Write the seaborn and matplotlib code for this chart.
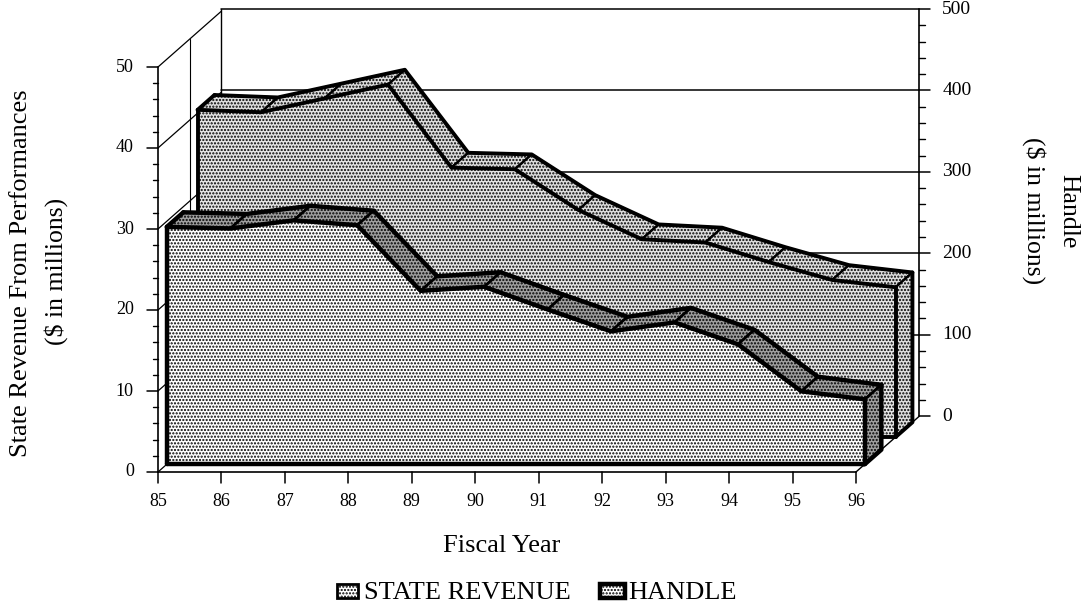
# -------------------------------------------------------
# State revenue and handle, drawn as a 3D style area chart
# -------------------------------------------------------
import numpy as np
import pandas as pd
import matplotlib
matplotlib.use("Agg")
import matplotlib.pyplot as plt
from matplotlib.patches import Rectangle
import seaborn as sns

# Data
years = [85, 86, 87, 88, 89, 90, 91, 92, 93, 94, 95, 96]
state_revenue = [29.3, 29.1, 30.1, 29.5, 21.4, 21.9, 19.1, 16.4, 17.5, 14.8, 9.0, 8.0]
handle = [402, 399, 416, 433, 331, 329, 279, 243, 239, 215, 193, 184]
revenue_ticks = [0, 10, 20, 30, 40, 50]
revenue_minor = [v for v in range(0, 50, 2) if v % 10]
handle_ticks = [0, 100, 200, 300, 400, 500]
handle_minor = [v for v in range(0, 500, 20) if v % 100]

W, H = 1082, 609
YEAR_PX = 63.45
REV_PX = 8.1
X0_PX, Y0_PX = 158, 472

# depth 1 = one year sideways and this many revenue units upward
DEPTH_UP = 6.9
HANDLE_SCALE = 0.1005


def project(x, y, depth):
    """ Moves a point of the chart back along the depth direction. """
    return np.asarray(x, dtype=float) + depth, np.asarray(y, dtype=float) + depth * DEPTH_UP


def draw_line(ax, xs, ys, lw=1.0, z=2):
    frame = pd.DataFrame({"x": xs, "y": ys})
    sns.lineplot(data=frame, x="x", y="y", sort=False, estimator=None, color="black",
                 linewidth=lw, legend=False, zorder=z, ax=ax)


def draw_layer(ax, values, d_front, d_back, face_color, top_color, lw, z):
    """ Front face, top ribbon segments and right end of one area. """
    xf, yf = project(years, values, d_front)
    xb, yb = project(years, values, d_back)
    x0, y0 = project(years, np.zeros(len(years)), d_front)

    ax.fill_between(xf, y0, yf, facecolor=face_color, edgecolor="black", hatch=".....",
                    linewidth=0, zorder=z)
    for i in range(len(years) - 1):
        ax.fill([xf[i], xf[i + 1], xb[i + 1], xb[i]], [yf[i], yf[i + 1], yb[i + 1], yb[i]],
                facecolor=top_color, edgecolor="black", hatch=".....", linewidth=lw * 0.6,
                zorder=z + 1)
    ax.fill([xf[-1], xb[-1], xb[-1] , xf[-1]], [yf[-1], yb[-1], project(0, 0, d_back)[1], y0[-1]],
            facecolor=top_color, edgecolor="black", hatch=".....", linewidth=lw * 0.6, zorder=z + 1)

    draw_line(ax, [xf[0], xf[0]], [y0[0], yf[0]], lw, z + 2)
    draw_line(ax, [xf[0], xf[-1], xf[-1]], [y0[0], y0[-1], yf[-1]], lw, z + 2)
    draw_line(ax, xf, yf, lw, z + 2)
    draw_line(ax, xb, yb, lw, z + 2)
    draw_line(ax, [xf[0], xb[0]], [yf[0], yb[0]], lw, z + 2)
    draw_line(ax, [xb[-1], xb[-1], xf[-1]], [yb[-1], project(0, 0, d_back)[1], y0[-1]], lw, z + 2)


# -------------------------------------------------------
# Figure setup
# -------------------------------------------------------
sns.set_theme(style="white", rc={"hatch.linewidth": 1.05})
plt.rcParams["font.family"] = ["Liberation Serif", "DejaVu Serif"]

fig = plt.figure(figsize=(W / 100, H / 100), dpi=100)
ax = fig.add_axes([0, 0, 1, 1])
ax.set_xlim(years[0] - X0_PX / YEAR_PX, years[0] + (W - X0_PX) / YEAR_PX)
ax.set_ylim(-(H - Y0_PX) / REV_PX, Y0_PX / REV_PX)
ax.axis("off")

x_first, x_last = years[0], years[-1]
top_rev = revenue_ticks[-1]

# Back wall and side wall
for v in handle_ticks[1:]:
    y = v * HANDLE_SCALE + DEPTH_UP
    draw_line(ax, [x_first + 1, x_last + 1], [y, y], 1.1, 1)
top_back = handle_ticks[-1] * HANDLE_SCALE + DEPTH_UP
draw_line(ax, [x_first + 1, x_first + 1], [DEPTH_UP, top_back], 1.0, 1)
draw_line(ax, [x_first + 0.5, x_first + 0.5], [DEPTH_UP / 2, top_rev + DEPTH_UP / 2], 0.8, 1)
for v in revenue_ticks:
    draw_line(ax, [x_first, x_first + 1], [v, v + DEPTH_UP], 0.9, 1)

# Left axis
draw_line(ax, [x_first, x_first], [0, top_rev], 1.2, 8)
for v in revenue_ticks:
    draw_line(ax, [x_first - 0.18, x_first], [v, v], 1.1, 8)
    ax.text(x_first - 0.38, v, str(v), ha="right", va="center", fontsize=13, color="black")
for v in revenue_minor:
    draw_line(ax, [x_first - 0.08, x_first], [v, v], 1.0, 8)

# Bottom axis
draw_line(ax, [x_first, x_last], [0, 0], 1.2, 8)
draw_line(ax, [x_last, x_last + 1], [0, DEPTH_UP], 1.0, 8)
for yr in years:
    draw_line(ax, [yr, yr], [0, -1.4], 1.1, 8)
    ax.text(yr, -3.6, str(yr), ha="center", va="center", fontsize=13, color="black")

# Right axis
draw_line(ax, [x_last + 1, x_last + 1], [DEPTH_UP, top_back], 1.2, 1)
for v in handle_ticks:
    y = v * HANDLE_SCALE + DEPTH_UP
    draw_line(ax, [x_last + 1, x_last + 1.17], [y, y], 1.1, 1)
    ax.text(x_last + 1.36, y, str(v), ha="left", va="center", fontsize=14, color="black")
for v in handle_minor:
    y = v * HANDLE_SCALE + DEPTH_UP
    draw_line(ax, [x_last + 1, x_last + 1.09], [y, y], 1.0, 1)

# -------------------------------------------------------
# The two areas, the handle sits behind the state revenue
# -------------------------------------------------------
handle_values = [v * HANDLE_SCALE for v in handle]
draw_layer(ax, handle_values, 0.625, 0.89, "#e6e6e6", "#dedede", 2.8, 3)
draw_layer(ax, state_revenue, 0.14, 0.40, "white", "#a0a0a0", 3.2, 6)

# -------------------------------------------------------
# Titles and legend
# -------------------------------------------------------
def fig_text(x, y, s, **kw):
    fig.text(x / W, 1 - y / H, s, ha="center", va="center", color="black", **kw)


fig_text(21, 273, "State Revenue From Performances", fontsize=19, rotation=90)
fig_text(56, 271, "($ in millions)", fontsize=18.5, rotation=90)
fig_text(1068, 211, "Handle", fontsize=18.5, rotation=-90)
fig_text(1034, 211, "($ in millions)", fontsize=18.5, rotation=-90)
fig_text(502, 546, "Fiscal Year", fontsize=19)

for x_px, width_px, fill, lw in [(337, 21, "white", 2.0), (600, 25, "white", 3.2)]:
    fig.add_artist(Rectangle((x_px / W, 1 - 598 / H), width_px / W, 14 / H, transform=fig.transFigure,
                             facecolor=fill, edgecolor="black", hatch=".....", linewidth=lw))
fig_text(467, 593, "STATE REVENUE", fontsize=19)
fig_text(682, 593, "HANDLE", fontsize=19)

fig.savefig("out.png", dpi=100)
